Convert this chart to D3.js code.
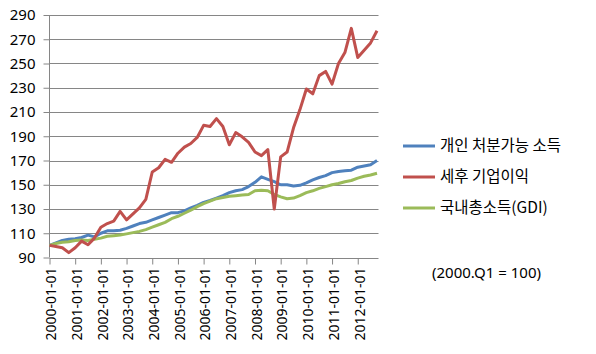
<!DOCTYPE html>
<html><head><meta charset="utf-8">
<script src="https://cdn.jsdelivr.net/npm/d3@7"></script>
<style>
body{margin:0;background:#fff;}
text{font-family:"Noto Sans","Noto Sans CJK KR",sans-serif;fill:#000;}
</style></head>
<body><svg id="c" width="596" height="354"></svg>
<script>
const years = ["2000","2001","2002","2003","2004","2005","2006","2007","2008","2009","2010","2011","2012"];
const quarters = years.flatMap(y => ["01","04","07","10"].map(m => `${y}-${m}-01`));
const yTicks = [90,110,130,150,170,190,210,230,250,270,290];
const seriesNames = ["개인 처분가능 소득","세후 기업이익","국내총소득(GDI)"];
const seriesColors = ["#4F81BD","#C0504D","#9BBB59"];
const disposable = [100,102,104,105,105.5,106.5,108.5,107,110,112,112,112.5,114,116,118,119,121,123,
  125,127,127,128.5,131,133,135.5,137,139,141,143.5,145,146,148.5,152,156.5,154.5,152.5,150,150,149,149.5,
  151.5,154,156,157.5,160,161,161.5,162,164.5,165.5,166.5,170];
const profits = [100,99,98,94,98,103.5,100.5,106,115,118,120,128,121,126,131,138,160.5,164,171,168.5,176,181,
  184,189,199,198,204.5,198,183,193,189.5,185,177,174,179,130,173,177,197,212,229,225,240,243.5,233,250,259,
  279,255,261,267,277];
const gdi = [100,101.5,102.5,103,104,104.5,104,105,106,107.5,108,108.5,109.5,110.5,111.5,113,115,117,
  119,122,124,126.5,129,132,134.5,136.5,138.5,139.5,140.5,141,141.5,142,145,145.5,145,142,140,138.5,139,141,
  143.5,145,147,148.5,150,151,152.5,153.5,155.5,157,158,159.5];
const note = "(2000.Q1 = 100)";

const svg = d3.select("#c");
const x = d3.scaleLinear().domain([0, quarters.length - 1]).range([49.5, 377]);
const y = d3.scaleLinear().domain([90, 290]).range([257.5, 15]);
const gridColor = "#868686";

// gridlines
svg.append("g").selectAll("line").data(yTicks.slice(1)).join("line")
  .attr("x1", 49.5).attr("x2", 378.5)
  .attr("y1", d => Math.round(y(d)) + 0.5).attr("y2", d => Math.round(y(d)) + 0.5)
  .attr("stroke", gridColor).attr("stroke-width", 1);

// y axis
const yAxis = svg.append("g").attr("transform", "translate(49.5,0)")
  .call(d3.axisLeft(y).tickValues(yTicks).tickSize(6).tickPadding(8));
yAxis.select(".domain").attr("stroke", gridColor).attr("d", `M0,${y(290)}V${y(90)}`);
yAxis.selectAll(".tick line").attr("stroke", gridColor);
yAxis.selectAll("text").style("font-size", "15px").attr("fill", "#000");

// x axis
const yearIdx = years.map((yr, i) => i * 4);
const xAxis = svg.append("g").attr("transform", `translate(0,${Math.round(y(90)) + 0.5})`)
  .call(d3.axisBottom(x).tickValues(yearIdx).tickFormat(i => quarters[i]).tickSize(6).tickPadding(4));
xAxis.select(".domain").attr("stroke", gridColor).attr("d", `M49.5,0H378.5`);
xAxis.selectAll(".tick line").attr("stroke", gridColor);
xAxis.selectAll("text").style("font-size", "14px").attr("fill", "#000")
  .attr("transform", "rotate(-90)").attr("text-anchor", "end")
  .attr("x", -9).attr("y", 0).attr("dy", "0.45em");

// lines
const line = d3.line().x((d, i) => x(i)).y(d => y(d));
[disposable, profits, gdi].forEach((s, k) => {
  svg.append("path").datum(s).attr("d", line).attr("fill", "none")
    .attr("stroke", seriesColors[k]).attr("stroke-width", 3).attr("stroke-linejoin", "round");
});
// redraw order: red on top of blue/green like reference
svg.selectAll("path").filter(function(){return this.getAttribute("stroke")==="#C0504D";}).raise();

// legend
const lg = svg.append("g");
seriesNames.forEach((n, k) => {
  const ly = 146 + k * 31;
  lg.append("line").attr("x1", 403).attr("x2", 435).attr("y1", ly).attr("y2", ly)
    .attr("stroke", seriesColors[k]).attr("stroke-width", 3);
  lg.append("text").attr("x", 440).attr("y", ly).attr("dy", "0.35em")
    .style("font-size", "15.5px").style("font-family", "'Noto Sans CJK KR', sans-serif").text(n);
});

svg.append("text").attr("x", 432).attr("y", 273).attr("dy", "0.35em")
  .style("font-size", "15px").text(note);
</script></body></html>
